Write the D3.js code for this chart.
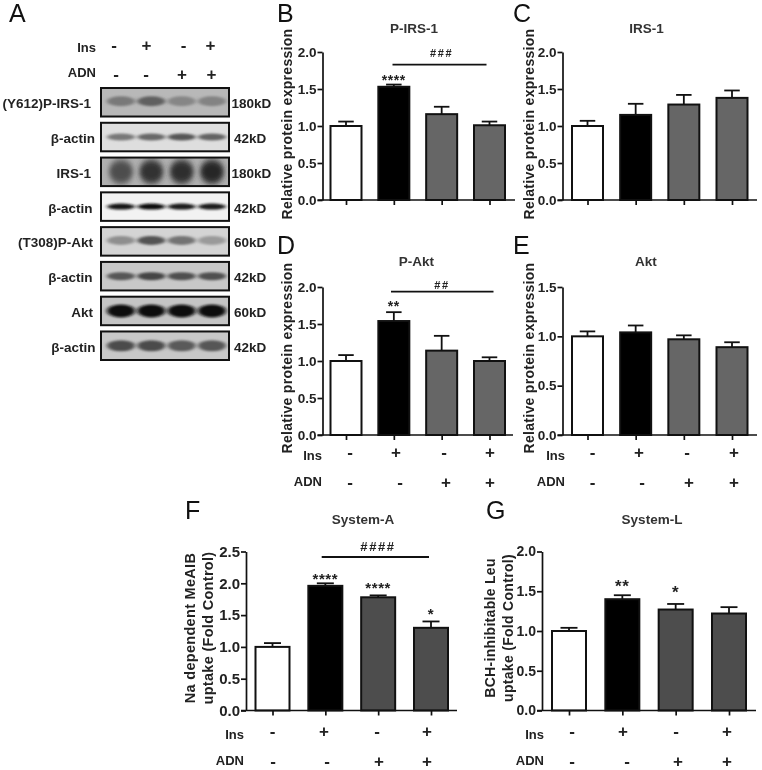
<!DOCTYPE html>
<html>
<head>
<meta charset="utf-8">
<script src="https://cdnjs.cloudflare.com/ajax/libs/d3/7.8.5/d3.min.js"></script>
<style>
  html, body { margin: 0; padding: 0; background: #fff; }
  svg { display: block; filter: blur(0.4px); }
  text { font-family: "Liberation Sans", Arial, sans-serif; fill: #222; }
  .bold { font-weight: 700; }
</style>
</head>
<body>
<svg id="fig" width="762" height="770"></svg>
<script>
// western blot rows (panel A)
var blotLabels = ['(Y612)P-IRS-1', 'β-actin', 'IRS-1', 'β-actin', '(T308)P-Akt', 'β-actin', 'Akt', 'β-actin'];
var blotWeights = ['180kD', '42kD', '180kD', '42kD', '60kD', '42kD', '60kD', '42kD'];
// band darkness per lane, 0 = background, 1 = black
var blotP_IRS = [0.38, 0.52, 0.3, 0.32];
var blotActin1 = [0.5, 0.58, 0.66, 0.6];
var blotIRS = [0.62, 0.8, 0.82, 0.86];
var blotActin2 = [0.98, 1, 0.96, 0.96];
var blotP_Akt = [0.36, 0.66, 0.5, 0.3];
var blotActin3 = [0.62, 0.72, 0.66, 0.66];
var blotAkt = [1, 1, 1, 1];
var blotActin4 = [0.68, 0.68, 0.6, 0.62];

var groups = ['ctrl', 'ins', 'adn', 'ins+adn'];
var insSigns = ['-', '+', '-', '+'];
var adnSigns = ['-', '-', '+', '+'];

var pIrsMean = [1.0, 1.53, 1.16, 1.01];
var pIrsErr = [0.06, 0.03, 0.10, 0.05];
var irsMean = [1.0, 1.15, 1.29, 1.38];
var irsErr = [0.07, 0.15, 0.13, 0.10];
var pAktMean = [1.0, 1.54, 1.14, 1.0];
var pAktErr = [0.08, 0.12, 0.20, 0.05];
var aktMean = [1.0, 1.04, 0.97, 0.89];
var aktErr = [0.05, 0.07, 0.04, 0.05];
var sysAMean = [1.0, 1.96, 1.78, 1.30];
var sysAErr = [0.06, 0.04, 0.03, 0.10];
var sysLMean = [1.0, 1.40, 1.27, 1.22];
var sysLErr = [0.04, 0.05, 0.07, 0.08];

var ticks2 = [0, 0.5, 1, 1.5, 2];
var ticks15 = [0, 0.5, 1, 1.5];
var ticks25 = [0, 0.5, 1, 1.5, 2, 2.5];

var svg = d3.select('#fig');

var defs = svg.append('defs');
defs.append('filter').attr('id', 'soft').attr('x', '-30%').attr('y', '-80%').attr('width', '160%').attr('height', '260%')
  .append('feGaussianBlur').attr('stdDeviation', '2 1.2');
defs.append('filter').attr('id', 'softTall').attr('x', '-30%').attr('y', '-60%').attr('width', '160%').attr('height', '220%')
  .append('feGaussianBlur').attr('stdDeviation', '2.5 3');

function letter(t, x, y) {
  svg.append('text').attr('x', x).attr('y', y).attr('font-size', 25).style('fill', '#111').text(t);
}

// o: xsIns, xsAdn, ins/adn = label baselines, signIns/signAdn = +/- baselines, lx = label right edge
function signRows(g, o) {
  [[o.ins, o.signIns, 'Ins', insSigns, o.xsIns], [o.adn, o.signAdn, 'ADN', adnSigns, o.xsAdn]].forEach(function (row) {
    g.append('text').attr('class', 'bold').attr('x', o.lx).attr('y', row[0])
      .attr('text-anchor', 'end').attr('font-size', 13).text(row[2]);
    g.selectAll(null).data(row[3]).enter().append('text')
      .attr('class', 'bold')
      .attr('x', function (d, i) { return row[4][i]; })
      .attr('y', row[1])
      .attr('text-anchor', 'middle')
      .attr('font-size', 17)
      .text(function (d) { return d; });
  });
}

// ---- panel A
function drawBlots() {
  var rows = [blotP_IRS, blotActin1, blotIRS, blotActin2, blotP_Akt, blotActin3, blotAkt, blotActin4];
  var bg = ['#b8b8b8', '#dedede', '#b0b0b0', '#f2f2f2', '#d4d4d4', '#c8c8c8', '#c4c4c4', '#c8c8c8'];
  var bandH = [5, 3.5, 12, 3, 4.5, 4, 6.5, 5.5];
  var labelRight = [91, 95, 91, 92.5, 93, 92.5, 93, 95.5];
  var rowY = d3.scaleBand().domain(d3.range(8)).range([88, 360]).paddingInner(0.18).paddingOuter(0);
  var lane = d3.scalePoint().domain(d3.range(4)).range([121, 212]);
  var g = svg.append('g');
  var ink = d3.scaleLinear().domain([0, 1]);

  rows.forEach(function (vals, r) {
    var y = rowY(r), h = rowY.bandwidth();
    var clip = 'blot' + r;
    defs.append('clipPath').attr('id', clip).append('rect')
      .attr('x', 101).attr('y', y).attr('width', 128).attr('height', h);
    var row = g.append('g').attr('clip-path', 'url(#' + clip + ')');
    row.append('rect').attr('x', 101).attr('y', y).attr('width', 128).attr('height', h).attr('fill', bg[r]);
    ink.range([bg[r], '#111']);
    row.selectAll('ellipse').data(vals).enter().append('ellipse')
      .attr('cx', function (d, i) { return lane(i); })
      .attr('cy', y + h / 2 + (r === 0 || r === 4 ? -1 : 0))
      .attr('rx', r === 2 ? 12 : 14)
      .attr('ry', bandH[r])
      .attr('fill', function (d) { return ink(d); })
      .attr('filter', r === 2 ? 'url(#softTall)' : 'url(#soft)');
    g.append('rect').attr('x', 101).attr('y', y).attr('width', 128).attr('height', h)
      .attr('fill', 'none').attr('stroke', '#111').attr('stroke-width', 2);
    g.append('text').attr('class', 'bold').attr('x', labelRight[r]).attr('y', y + h / 2 + 6)
      .attr('text-anchor', 'end').attr('font-size', 13.5).text(blotLabels[r]);
    g.append('text').attr('class', 'bold').attr('x', blotWeights[r] === '180kD' ? 231.5 : 234).attr('y', y + h / 2 + 6)
      .attr('font-size', 13.5).text(blotWeights[r]);
  });

  signRows(g, { xsIns: [114, 146.5, 183.5, 210.5], xsAdn: [116, 146, 182, 211.5],
    ins: 52, adn: 77, signIns: 50.5, signAdn: 79.5, lx: 96 });
}

// ---- bar panels
function barPanel(o) {
  var g = svg.append('g');
  var y = d3.scaleLinear().domain([0, o.max]).range([o.y0, o.y1]);
  var x = d3.scalePoint().domain(groups).range(o.xr);
  var bw = o.bw || 31;

  // bars + error caps
  var bars = g.selectAll('g.bar').data(o.mean).enter().append('g').attr('class', 'bar');
  bars.append('line')
    .attr('x1', function (d, i) { return x(groups[i]); })
    .attr('x2', function (d, i) { return x(groups[i]); })
    .attr('y1', function (d) { return y(d); })
    .attr('y2', function (d, i) { return y(d + o.err[i]); })
    .attr('stroke', '#111').attr('stroke-width', 1.8);
  bars.append('line')
    .attr('x1', function (d, i) { return x(groups[i]) - bw * 0.25; })
    .attr('x2', function (d, i) { return x(groups[i]) + bw * 0.25; })
    .attr('y1', function (d, i) { return y(d + o.err[i]); })
    .attr('y2', function (d, i) { return y(d + o.err[i]); })
    .attr('stroke', '#111').attr('stroke-width', 1.8);
  bars.append('rect')
    .attr('x', function (d, i) { return x(groups[i]) - bw / 2; })
    .attr('y', function (d) { return y(d); })
    .attr('width', bw)
    .attr('height', function (d) { return o.y0 - y(d); })
    .attr('fill', function (d, i) { return ['#fff', '#000', o.fill, o.fill][i]; })
    .attr('stroke', '#111').attr('stroke-width', 2);

  // axes
  var left = g.append('g').attr('transform', 'translate(' + o.ax + ',0)')
    .call(d3.axisLeft(y).tickValues(o.ticks).tickFormat(d3.format('.1f')).tickSize(5).tickSizeOuter(0));
  left.selectAll('path,line').attr('stroke', '#111').attr('stroke-width', 1.7);
  left.selectAll('text').attr('class', 'bold').attr('font-size', o.tickFont || 13.5).attr('dx', 2)
    .style('font-family', '"Liberation Sans", Arial, sans-serif').style('fill', '#222');

  var bottom = g.append('g').attr('transform', 'translate(0,' + o.y0 + ')')
    .call(d3.axisBottom(x).tickSize(5).tickFormat('').tickSizeOuter(0));
  bottom.select('path').attr('d', 'M' + (o.ax - 5) + ',0H' + o.xEnd);
  bottom.selectAll('path,line').attr('stroke', '#111').attr('stroke-width', 1.7);

  // titles
  g.append('text').attr('class', 'bold').attr('x', o.titleX).attr('y', o.titleY)
    .attr('text-anchor', 'middle').attr('font-size', 13.5).style('fill', '#333').text(o.title);
  o.ylabel.forEach(function (t, i) {
    g.append('text').attr('class', 'bold')
      .attr('transform', 'translate(' + (o.labelX + i * 17.5) + ',' + o.labelY + ') rotate(-90)')
      .attr('text-anchor', 'middle').attr('font-size', o.labelFont || 14)
      .style('letter-spacing', '0.3px')
      .text(t);
  });

  // significance, gaps are from the error cap to the middle of the stars
  (o.stars || []).forEach(function (s, i) {
    if (!s) return;
    var f = o.starFont || 14;
    g.append('text').attr('class', 'bold').attr('x', x(groups[i]))
      .attr('y', y(o.mean[i] + o.err[i]) - o.starGap[i] + 0.56 * f)
      .attr('text-anchor', 'middle').attr('font-size', f).style('letter-spacing', '0.6px').text(s);
  });
  if (o.hash) {
    g.append('line').attr('x1', o.hash.x1).attr('x2', o.hash.x2).attr('y1', o.hash.y).attr('y2', o.hash.y)
      .attr('stroke', '#111').attr('stroke-width', 1.8);
    g.append('text').attr('class', 'bold').attr('x', o.hash.cx).attr('y', o.hash.ty)
      .attr('text-anchor', 'middle').attr('font-size', o.hash.f || 11).style('letter-spacing', '1.6px').text(o.hash.t);
  }
  if (o.signs) signRows(g, o.signs);
}

letter('A', 9, 22);
letter('B', 277, 22);
letter('C', 513, 22);
letter('D', 277, 254);
letter('E', 513, 254);
letter('F', 185, 519);
letter('G', 486, 519);

drawBlots();

var rpe = ['Relative protein expression'];
barPanel({ mean: pIrsMean, err: pIrsErr, max: 2, ticks: ticks2, fill: '#666', y0: 200, y1: 52, ax: 322.5, xEnd: 515,
  xr: [346, 489.5], title: 'P-IRS-1', titleX: 414, titleY: 33, ylabel: rpe, labelX: 291.5, labelY: 124,
  stars: ['', '****', '', ''], starGap: [0, 7, 0, 0],
  hash: { x1: 392.5, x2: 486.5, y: 64.7, cx: 441.7, ty: 57, t: '###' } });
barPanel({ mean: irsMean, err: irsErr, max: 2, ticks: ticks2, fill: '#666', y0: 200, y1: 52, ax: 562.5, xEnd: 757,
  xr: [587.5, 732], title: 'IRS-1', titleX: 646.5, titleY: 33, ylabel: rpe, labelX: 534, labelY: 124 });
barPanel({ mean: pAktMean, err: pAktErr, max: 2, ticks: ticks2, fill: '#666', y0: 435, y1: 287, ax: 322.5, xEnd: 513,
  xr: [346, 489.5], title: 'P-Akt', titleX: 416.5, titleY: 265.5, ylabel: rpe, labelX: 291.5, labelY: 358,
  stars: ['', '**', '', ''], starGap: [0, 9.5, 0, 0],
  hash: { x1: 391, x2: 493.5, y: 291.7, cx: 442, ty: 288.5, t: '##' },
  signs: { xsIns: [350, 396, 444, 490], xsAdn: [350, 400, 446, 490], ins: 460, adn: 486, signIns: 458, signAdn: 487.5, lx: 322 } });
barPanel({ mean: aktMean, err: aktErr, max: 1.5, ticks: ticks15, fill: '#666', y0: 435, y1: 287, ax: 562.5, xEnd: 757,
  xr: [587.5, 732], title: 'Akt', titleX: 646, titleY: 265.5, ylabel: rpe, labelX: 534, labelY: 358,
  signs: { xsIns: [592.7, 639, 687, 734], xsAdn: [592.7, 642, 689, 734], ins: 460, adn: 486, signIns: 458, signAdn: 487.5, lx: 565 } });
barPanel({ mean: sysAMean, err: sysAErr, max: 2.5, ticks: ticks25, fill: '#4d4d4d', y0: 710.5, y1: 551.5, ax: 246, xEnd: 457,
  xr: [272.5, 431], bw: 34, title: 'System-A', titleX: 363, titleY: 524, ylabel: ['Na dependent MeAIB', 'uptake (Fold Control)'],
  labelX: 195, labelY: 628, labelFont: 14.5, tickFont: 15, stars: ['', '****', '****', '*'], starGap: [0, 8, 11, 11], starFont: 15,
  hash: { x1: 321.7, x2: 429, y: 557, cx: 378, ty: 551, t: '####', f: 13 },
  signs: { xsIns: [272.7, 324, 377, 427], xsAdn: [273, 327, 379, 427], ins: 739, adn: 765, signIns: 737, signAdn: 766.5, lx: 244 } });
barPanel({ mean: sysLMean, err: sysLErr, max: 2, ticks: ticks2, fill: '#4d4d4d', y0: 710.5, y1: 551.5, ax: 542, xEnd: 756,
  xr: [569, 729], bw: 34, title: 'System-L', titleX: 652, titleY: 524, ylabel: ['BCH-inhibitable Leu', 'uptake (Fold Control)'],
  labelX: 495, labelY: 628, labelFont: 14, tickFont: 14, stars: ['', '**', '*', ''], starGap: [0, 13, 15, 0], starFont: 17,
  signs: { xsIns: [572, 623, 676, 727], xsAdn: [572, 627, 678, 727], ins: 739, adn: 765, signIns: 737, signAdn: 766.5, lx: 544 } });
</script>
</body>
</html>
